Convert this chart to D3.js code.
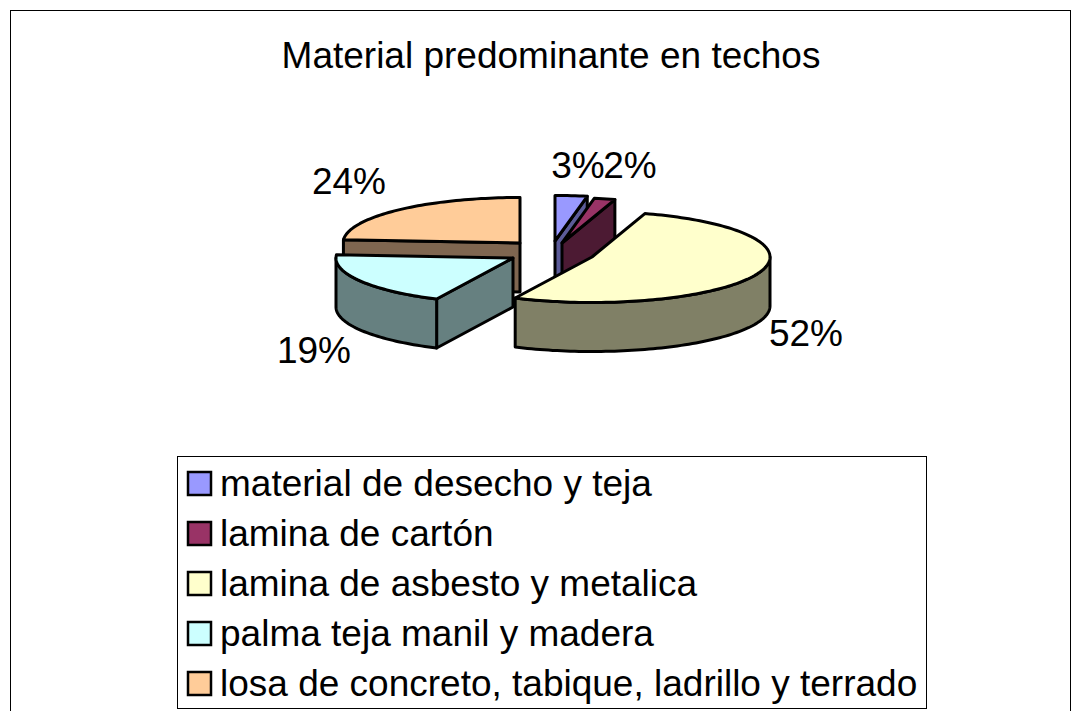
<!DOCTYPE html>
<html><head><meta charset="utf-8">
<script src="https://cdnjs.cloudflare.com/ajax/libs/d3/7.8.5/d3.min.js"></script>
<style>html,body{margin:0;padding:0;background:#fff}svg{display:block}text{font-family:"Liberation Sans",Arial,sans-serif;fill:#000}</style>
</head><body><svg id="c" width="1081" height="711"></svg>
<script>
const titleText = "Material predominante en techos";
const categories = ["material de desecho y teja","lamina de cartón","lamina de asbesto y metalica","palma teja manil y madera","losa de concreto, tabique, ladrillo y terrado"];
const values = [2.9,1.9,52.3,19,23.9];
const labels = ["3%","2%","52%","19%","24%"];
const colors = ["#9999ff","#993366","#ffffcc","#ccffff","#ffcc99"];
const sideColors = ["#5c5c99","#4c1a33","#808066","#668080","#7f6650"];
// layout only
const explodeX = [555,562,592,513,520];
const explodeY = [241,243,257,258,243];
const radiiX = [178,178,178,177,177];
const ry = 45.5, depth = 49;
const labelX = [578,630,806,314,349];
const labelY = [178,178,346,363,194];
const drawOrder = [4,0,1,3,2];

const svg = d3.select("#c");
svg.append("rect").attr("x",10.5).attr("y",10.5).attr("width",1060).attr("height",720).attr("fill","#fff").attr("stroke","#000").attr("stroke-width",1);
svg.append("text").attr("x",551).attr("y",68).attr("text-anchor","middle").attr("font-size",37).text(titleText);

const arcs = d3.pie().sort(null).value(d=>d)(values);
function pt(i,a,dz=0,r=1){return [explodeX[i]+r*radiiX[i]*Math.sin(a), explodeY[i]-r*ry*Math.cos(a)+dz];}
function arcPts(i,a0,a1,dz=0){const n=Math.max(2,Math.ceil((a1-a0)*40));return d3.range(n+1).map(k=>pt(i,a0+(a1-a0)*k/n,dz));}
const line = d3.line();
const gPie = svg.append("g").attr("stroke","#000").attr("stroke-width",3).attr("stroke-linejoin","round");
drawOrder.forEach(i=>{
  const {startAngle:a0,endAngle:a1}=arcs[i];
  const apex=[explodeX[i],explodeY[i]], apexB=[apex[0],apex[1]+depth];
  const side=(pts)=>gPie.append("path").attr("d",line(pts)+"Z").attr("fill",sideColors[i]);
  if(i===4||i===3){ const p=pt(i,a0); side([apex,p,[p[0],p[1]+depth],apexB]); }
  if(i===0||i===1){ const p=pt(i,a1); side([apex,p,[p[0],p[1]+depth],apexB]); }
  const f0=Math.max(a0,Math.PI/2), f1=Math.min(a1,3*Math.PI/2);
  if(f1>f0){ const top=arcPts(i,f0,f1), bot=arcPts(i,f0,f1,depth).reverse(); side(top.concat(bot)); }
  gPie.append("path").attr("d",line([apex].concat(arcPts(i,a0,a1)))+"Z").attr("fill",colors[i]);
});
labels.forEach((t,i)=>svg.append("text").attr("x",labelX[i]).attr("y",labelY[i]).attr("text-anchor","middle").attr("font-size",37).text(t));

const lg = svg.append("g");
lg.append("rect").attr("x",177.5).attr("y",456.5).attr("width",749).attr("height",252).attr("fill","#fff").attr("stroke","#000").attr("stroke-width",1);
const rowY = d3.scaleBand().domain(d3.range(categories.length)).range([459,709]);
categories.forEach((c,i)=>{
  const y=rowY(i)+rowY.bandwidth()/2;
  lg.append("rect").attr("x",188).attr("y",y-12).attr("width",23).attr("height",23).attr("fill",colors[i]).attr("stroke","#000").attr("stroke-width",2.5);
  lg.append("text").attr("x",220).attr("y",y+12).attr("font-size",37).text(c);
});
</script></body></html>
